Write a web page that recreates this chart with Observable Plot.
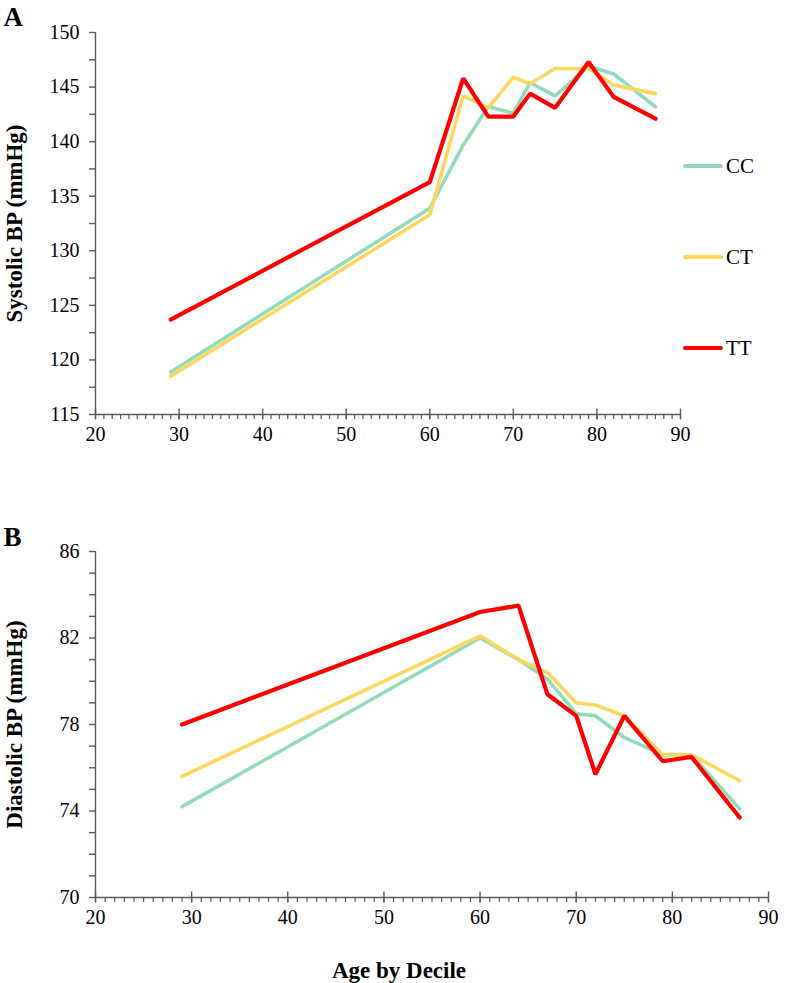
<!DOCTYPE html>
<html><head><meta charset="utf-8">
<script src="https://cdn.jsdelivr.net/npm/d3@7"></script>
<script src="https://cdn.jsdelivr.net/npm/@observablehq/plot@0.6"></script>
<style>
body{margin:0;background:#fff;}
#wrap{position:relative;width:790px;height:983px;font-family:"Liberation Serif","Times New Roman",serif;background:#fff;}
#wrap svg{display:block;}
.leg{position:absolute;left:683px;height:24px;display:flex;align-items:center;font-size:21px;color:#000;}
.leg span.sw{display:inline-block;width:40px;height:4px;border-radius:2px;margin-right:3px;}
</style></head><body><div id="wrap"></div>
<script>
// ---- data ----
const ages = [29, 60, 64, 67, 70, 72, 75, 79, 82, 87];
const genotypes = ["CC", "CT", "TT"];
const sysCC = [118.9, 133.9, 139.7, 143.2, 142.6, 145.4, 144.2, 146.9, 146.2, 143.2];
const sysCT = [118.5, 133.3, 144.2, 143.1, 145.9, 145.3, 146.7, 146.7, 145.2, 144.4];
const sysTT = [123.7, 136.3, 145.8, 142.3, 142.3, 144.4, 143.1, 147.3, 144.1, 142.1];
const diaCC = [74.2, 82.0, 81.0, 80.1, 78.5, 78.4, 77.4, 76.6, 76.6, 74.1];
const diaCT = [75.6, 82.1, 81.0, 80.4, 79.0, 78.9, 78.4, 76.6, 76.6, 75.4];
const diaTT = [78.0, 83.2, 83.5, 79.4, 78.4, 75.7, 78.4, 76.3, 76.5, 73.7];
const xTicks = [20, 30, 40, 50, 60, 70, 80, 90];
const sysTicks = [115, 120, 125, 130, 135, 140, 145, 150];
const diaTicks = [70, 74, 78, 82, 86];
const colors = ["#93dbb8", "#fcd65e", "#ff0000"];
const widths = [3.6, 3.6, 4.2];

const gray = "#595959";
const wrap = document.getElementById("wrap");

function rows(series) {
  return ages.flatMap((a, i) => genotypes.map((g, j) => ({age: a, g, v: series[j][i]})));
}

function panel(o) {
  const data = rows(o.series);
  const marks = [
    Plot.ruleX([20], {stroke: gray, strokeWidth: 1.4}),
    Plot.ruleY([o.yDomain[0]], {stroke: gray, strokeWidth: 1.4}),
    Plot.axisY({ticks: o.yMinor, tickSize: 6, tickFormat: () => "", stroke: gray, strokeWidth: 1.4, label: null}),
    Plot.axisY({ticks: o.yTicks, tickSize: 0, tickPadding: 16, fontSize: 20, fill: "#000", label: null}),
    Plot.axisX({ticks: d3.range(20, 91, 1), tickSize: 5, tickFormat: () => "", stroke: gray, strokeWidth: 1.2, label: null}),
    Plot.axisX({ticks: xTicks, tickSize: 11, dy: -5.5, tickFormat: () => "", stroke: gray, strokeWidth: 1.4, label: null}),
    Plot.axisX({ticks: xTicks, tickSize: 0, tickPadding: 12, fontSize: 20, fill: "#000", label: null}),
    ...genotypes.map((g, j) => Plot.line(data.filter(d => d.g === g), {x: "age", y: "v", stroke: colors[j], strokeWidth: widths[j], strokeLinejoin: "miter", strokeLinecap: "round"})),
    Plot.text([o.yTitle], {frameAnchor: "left", rotate: -90, dx: -(o.marginLeft - 21), textAnchor: "middle", lineAnchor: "bottom", fontSize: 23, fontWeight: "bold", fill: "#000"}),
    Plot.text([o.letter], {frameAnchor: "top-left", dx: -(o.marginLeft - 3), dy: o.letterDy, textAnchor: "start", lineAnchor: "top", fontSize: 27, fontWeight: "bold", fill: "#000"})
  ];
  if (o.xTitle) {
    marks.push(Plot.text([o.xTitle], {frameAnchor: "bottom", dx: o.xTitleDx, dy: o.xTitleDy, lineAnchor: "middle", fontSize: 23, fontWeight: "bold", fill: "#000"}));
  }
  return Plot.plot({
    width: 790,
    height: o.height,
    marginLeft: o.marginLeft,
    marginRight: o.marginRight,
    marginTop: o.marginTop,
    marginBottom: o.marginBottom,
    x: {domain: [20, 90]},
    y: {domain: o.yDomain},
    style: {fontFamily: "Liberation Serif, Times New Roman, serif", fontSize: "20px", color: "#000", background: "#fff", overflow: "visible"},
    marks
  });
}

wrap.appendChild(panel({
  series: [sysCC, sysCT, sysTT],
  yDomain: [115, 150], yTicks: sysTicks, yMinor: d3.range(115, 150.1, 2.5),
  height: 470, marginLeft: 95, marginRight: 110, marginTop: 32, marginBottom: 56,
  yTitle: "Systolic BP (mmHg)", letter: "A", letterDy: -26
}));
wrap.appendChild(panel({
  series: [diaCC, diaCT, diaTT],
  yDomain: [70, 86], yTicks: diaTicks, yMinor: d3.range(70, 86.1, 1),
  height: 513, marginLeft: 95, marginRight: 22, marginTop: 81, marginBottom: 86,
  yTitle: "Diastolic BP (mmHg)", letter: "B", letterDy: -25,
  xTitle: "Age by Decile", xTitleDx: -33, xTitleDy: 73
}));

// legend for panel A
const legendY = [166, 257, 348];
genotypes.forEach((g, i) => {
  const d = document.createElement("div");
  d.className = "leg";
  d.style.top = (legendY[i] - 12) + "px";
  d.innerHTML = `<span class="sw" style="background:${colors[i]}"></span>${g}`;
  wrap.appendChild(d);
});
</script>
</body></html>
